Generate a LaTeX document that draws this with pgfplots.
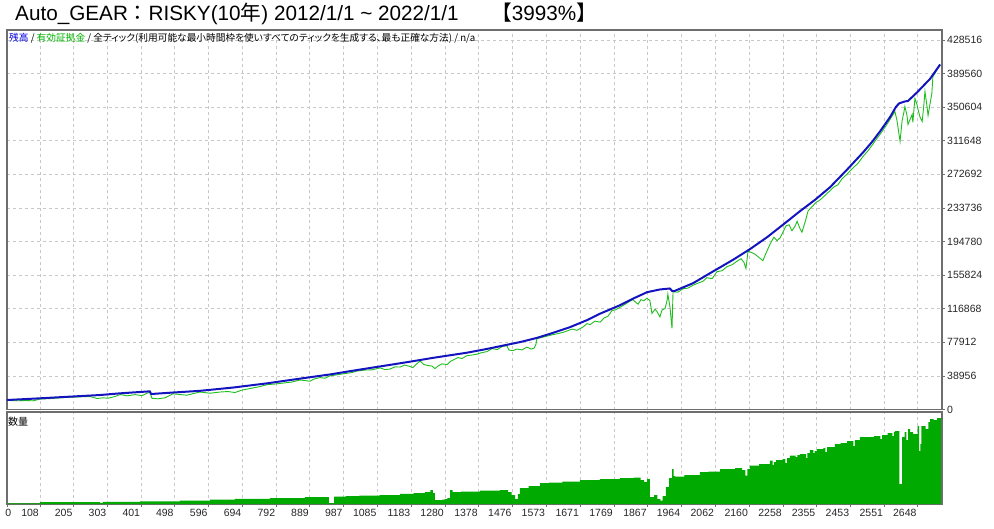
\documentclass[border=0pt]{standalone}
\usepackage{fontspec}
\setmainfont{Liberation Sans}
\newfontfamily\cjk[RawFeature={+palt}]{Noto Sans CJK JP}
\newfontfamily\cjkfw{Noto Sans CJK JP}
\usepackage{pgfplots}
\pgfplotsset{compat=1.18}
\definecolor{balblue}{RGB}{20,20,190}
\definecolor{eqgreen}{RGB}{30,190,30}
\definecolor{volgreen}{RGB}{0,170,0}
\definecolor{gridgray}{RGB}{200,200,200}
\definecolor{framegray}{RGB}{110,110,110}
\definecolor{legblue}{RGB}{0,0,220}
\definecolor{leggreen}{RGB}{0,180,0}
\begin{document}
\begin{tikzpicture}
\useasboundingbox (0pt,0pt) rectangle (994pt,-529pt);
\begin{axis}[
  at={(7pt,-30pt)}, anchor=north west,
  scale only axis, width=935pt, height=379.5pt,
  xmin=12.4, xmax=2718.4, ymin=0, ymax=440100,
  xtick={108,205,303,401,498,596,694,792,889,987,1085,1183,1280,1378,1476,1573,1671,1769,1867,1964,2062,2160,2258,2355,2453,2551,2648},
  xticklabels={},
  scaled y ticks=false,
  ytick={0,38956,77912,116868,155824,194780,233736,272692,311648,350604,389560,428516},
  yticklabels={0,38956,77912,116868,155824,194780,233736,272692,311648,350604,389560,428516},
  ytick pos=right, yticklabel pos=right,
  xmajorgrids, ymajorgrids,
  grid style={gridgray, dash pattern=on 3pt off 3pt, line width=0.8pt},
  axis line style={framegray, line width=1.3pt},
  tick align=outside, major tick length=3pt,
  xtick style={draw=none},
  ytick style={framegray, line width=0.8pt},
  yticklabel style={font=\fontsize{10.5}{12}\selectfont, text=black!85, anchor=west, inner sep=0pt, xshift=2pt},
]
\addplot[eqgreen, line width=0.9pt] coordinates {
(12,10654)(27,10306)(41,10075)(65,10422)(88,10075)(108,12159)(137,12622)(166,13549)
(186,14012)(224,14707)(253,15054)(273,12738)(290,13549)(305,13085)(325,15054)(340,17370)
(360,15865)(383,17254)(403,16096)(426,20265)(432,12970)(449,12391)(470,13549)(493,18181)
(513,17370)(533,16559)(551,18412)(571,20265)(600,18875)(629,20265)(652,20844)(672,19686)
(693,22581)(716,24318)(745,26634)(765,28834)(788,29529)(817,30919)(837,31845)(860,34161)
(875,33582)(889,32771)(901,35319)(918,37056)(933,36245)(947,39025)(970,40414)(991,41688)
(1011,42846)(1025,44583)(1049,45741)(1069,45973)(1092,48289)(1106,46320)(1121,46899)(1135,49447)
(1150,49215)(1164,51531)(1179,49794)(1187,48636)(1199,53268)(1208,56163)(1219,52110)(1231,50952)
(1242,50373)(1251,47478)(1260,50373)(1271,52921)(1286,52110)(1295,55584)(1303,57321)(1318,60216)
(1329,59058)(1344,62532)(1358,63111)(1373,64269)(1387,66006)(1402,67164)(1416,70638)(1431,69480)
(1445,72954)(1459,74112)(1465,68901)(1477,68322)(1488,70059)(1503,69133)(1517,72375)(1529,70059)
(1538,71217)(1543,75270)(1546,82218)(1564,83955)(1578,85345)(1593,86850)(1607,88008)(1622,89513)
(1636,91482)(1648,93219)(1662,91829)(1679,95535)(1691,99588)(1700,98430)(1714,102483)(1729,101325)
(1740,105957)(1752,108273)(1763,114642)(1775,115800)(1787,118695)(1804,122748)(1815,125643)(1824,127380)
(1833,123906)(1839,122169)(1847,127380)(1856,126222)(1865,129117)(1873,126222)(1879,111400)(1888,116379)
(1894,113252)(1902,107462)(1908,115221)(1917,117190)(1923,126801)(1925,133749)(1931,119042)(1937,94030)
(1940,136644)(1954,136065)(1969,140118)(1983,140697)(1998,144171)(2012,146487)(2027,148803)(2038,152856)
(2053,151698)(2067,159804)(2082,160962)(2096,165594)(2111,167910)(2125,171963)(2137,174858)(2145,170805)
(2151,163510)(2157,183543)(2169,181806)(2177,180069)(2186,177174)(2195,174279)(2200,172542)(2209,181227)
(2218,189333)(2226,195702)(2232,199755)(2241,195702)(2250,199176)(2258,205545)(2267,213072)(2276,214230)
(2284,207282)(2293,212493)(2299,218283)(2307,210177)(2313,205545)(2322,217125)(2331,230442)(2342,235074)
(2354,240285)(2362,242022)(2371,244917)(2383,249549)(2394,253602)(2406,258234)(2417,260550)(2429,267498)
(2443,272709)(2458,279078)(2475,285447)(2490,293553)(2504,299922)(2519,308028)(2530,314397)(2539,319029)
(2551,325977)(2559,330609)(2568,336399)(2577,342189)(2582,345663)(2588,335241)(2591,327135)(2597,310923)
(2603,335241)(2608,344505)(2611,351453)(2617,341031)(2620,330609)(2626,336399)(2632,342189)(2634,332925)
(2640,360717)(2646,353769)(2649,347979)(2655,338715)(2661,334083)(2666,353769)(2669,368823)(2675,351453)
(2678,341031)(2684,354927)(2689,366507)(2692,386193)(2698,389667)(2704,394299)(2713,399510)
};
\addplot[balblue, line width=2pt, line join=round] coordinates {
(12,11001)(108,12970)(186,14707)(282,16791)(340,18760)(426,21076)(429,17949)(493,19686)
(571,21655)(667,25476)(765,30340)(860,35782)(947,40646)(1025,45741)(1112,51184)(1179,55468)
(1245,59869)(1344,65890)(1402,70291)(1497,78165)(1546,83029)(1593,88934)(1642,95535)(1691,103641)
(1729,111168)(1787,121011)(1824,128538)(1865,136065)(1902,139192)(1931,140350)(1937,137570)(1943,137223)
(1998,146487)(2047,158067)(2114,173700)(2163,186091)(2212,199755)(2258,214230)(2307,229863)(2351,243180)
(2394,257655)(2443,277920)(2490,298185)(2516,310344)(2539,322503)(2568,339062)(2585,350874)(2594,354927)
(2611,357243)(2620,357822)(2646,367665)(2684,383530)(2713,400089)
};
\end{axis}
\begin{axis}[
  at={(7pt,-412pt)}, anchor=north west,
  scale only axis, width=935pt, height=92pt,
  xmin=12.4, xmax=2718.4, ymin=0, ymax=92,
  xtick={12.4,108,205,303,401,498,596,694,792,889,987,1085,1183,1280,1378,1476,1573,1671,1769,1867,1964,2062,2160,2258,2355,2453,2551,2648},
  xticklabels={{\makebox[0pt][l]{0}},108,205,303,401,498,596,694,792,889,987,1085,1183,1280,1378,1476,1573,1671,1769,1867,1964,2062,2160,2258,2355,2453,2551,2648},
  ytick=\empty,
  xmajorgrids,
  grid style={gridgray, dash pattern=on 3pt off 3pt, line width=0.8pt},
  axis line style={framegray, line width=1.3pt},
  tick align=outside, major tick length=3pt, xtick pos=bottom,
  xtick style={framegray, line width=0.8pt},
  xticklabel style={font=\fontsize{10.5}{12}\selectfont, text=black!85, anchor=north east, inner sep=0pt, xshift=-1pt, yshift=-2pt},
]
\addplot[const plot, fill=volgreen, draw=none] coordinates {
(12,0.7)(106,0.7)(108,1.8)(277,1.8)(282,0.8)(289,2.2)(395,2.2)(398,2.7)(511,2.7)(513,3.3)
(598,3.3)(600,4.3)(669,4.3)(672,5.2)(770,5.2)(773,6.0)(873,6.0)(875,6.8)(939,6.8)(944,1.0)
(956,1.0)(959,7.5)(993,7.8)(1032,8.5)(1091,9.0)(1150,10.2)(1189,10.8)(1222,12)(1238,14)(1245,11)
(1251,4)(1272,4.5)(1280,5)(1287,6)(1295,14)(1302,11.8)(1326,12.5)(1381,13.5)(1439,14)(1463,12)
(1473,9)(1483,5)(1491,10)(1497,16)(1522,18)(1555,20.8)(1581,21.5)(1620,22.5)(1671,24)(1728,25)
(1787,26)(1826,26.5)(1846,24)(1856,22)(1865,25)(1873,7)(1885,9)(1895,5)(1903,3.5)(1910,8)
(1919,17)(1929,26)(1937,35)(1942,28)(1946,27.5)(1973,29)(2018,31.8)(2042,32.5)(2076,35)(2120,36)
(2140,34)(2149,28.5)(2155,35)(2162,38.5)(2189,40)(2220,43.5)(2228,39)(2232,42)(2238,44)(2257,45)
(2265,41)(2270,46)(2278,48.5)(2295,47)(2300,49)(2307,50)(2325,46)(2329,51)(2336,54)(2346,51)
(2350,53)(2356,55)(2375,56)(2381,52)(2386,57)(2408,60)(2425,61)(2444,63)(2462,58)(2466,64)
(2481,66.8)(2500,67)(2522,68)(2540,65)(2545,69)(2561,71)(2575,68)(2579,72)(2582,72.8)(2591,73)
(2595,20)(2599,20)(2603,67)(2610,72)(2615,64)(2620,75)(2626,72)(2635,70)(2648,78)(2652,53)
(2656,60)(2659,78)(2671,75)(2679,82)(2684,85)(2694,84)(2704,86)(2712,86)(2716,86)
} \closedcycle;
\end{axis}
\node[anchor=base west, inner sep=0pt, font=\fontsize{20.7}{24}\selectfont] at (15pt,-21pt)
  {Auto\_GEAR{\cjkfw ：}RISKY(10{\cjkfw 年}) 2012/1/1 \textasciitilde{} 2022/1/1 \hspace{6pt}{\cjkfw 　【}3993\%{\cjkfw 】}};
\node[anchor=base west, inner sep=0pt, font=\fontsize{9.7}{12}\selectfont\cjk] at (9pt,-42pt)
  {\textcolor{legblue}{残高} / \textcolor{leggreen}{有効証拠金} / 全ティック(利用可能な最小時間枠を使いすべてのティックを生成する、最も正確な方法) / n/a};
\node[anchor=base west, inner sep=0pt, font=\fontsize{10}{12}\selectfont\cjk] at (8pt,-425pt) {数量};
\end{tikzpicture}
\end{document}
